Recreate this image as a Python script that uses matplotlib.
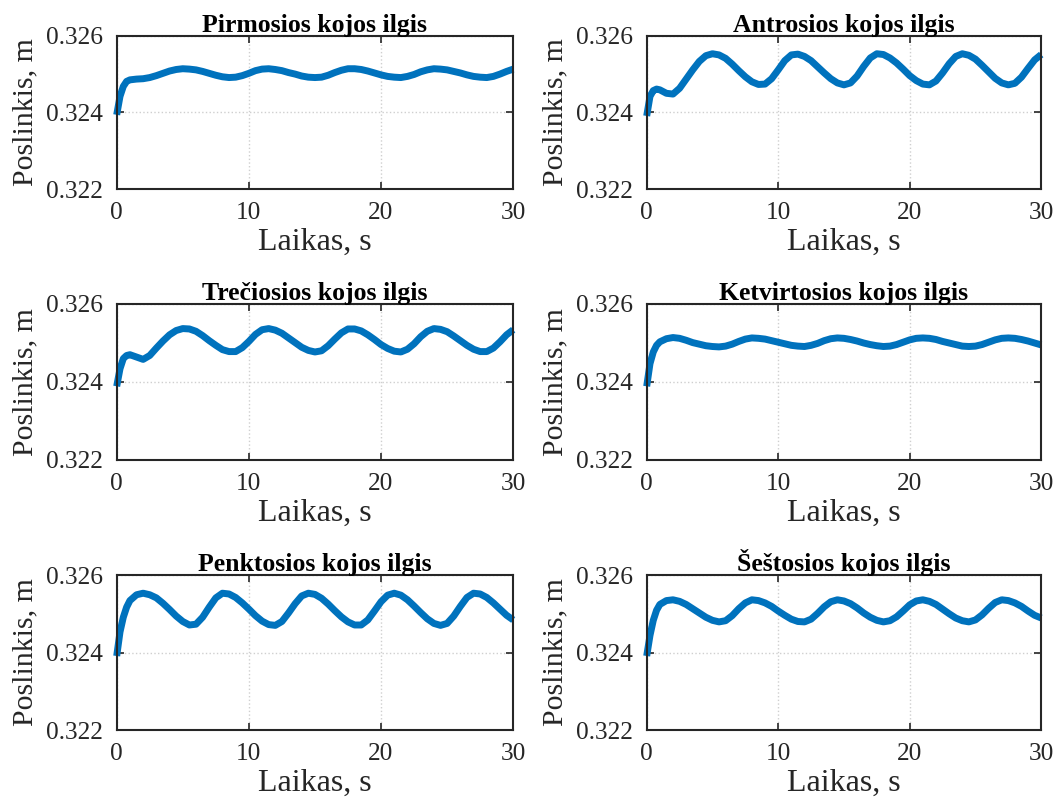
#!/usr/bin/env python3
"""Six-panel plot of leg length (Poslinkis) vs time, MATLAB-like look."""

import matplotlib
matplotlib.use("Agg")
import matplotlib.pyplot as plt  # noqa: E402

# ---------------------------------------------------------------------------
# Data
# ---------------------------------------------------------------------------

TIME = [0, 0.25, 0.5, 0.75, 1.0,
        1.5, 2.0, 2.5, 3.0, 3.5, 4.0, 4.5, 5.0,
        5.5, 6.0, 6.5, 7.0, 7.5, 8.0, 8.5,
        9.0, 9.5, 10.0, 10.5, 11.0,
        11.5, 12.0, 12.5, 13.0, 13.5, 14.0, 14.5, 15.0,
        15.5, 16.0, 16.5, 17.0, 17.5,
        18.0, 18.5, 19.0, 19.5, 20.0, 20.5, 21.0,
        21.5, 22.0, 22.5, 23.0, 23.5, 24.0,
        24.5, 25.0, 25.5, 26.0, 26.5, 27.0, 27.5,
        28.0, 28.5, 29.0, 29.5, 30.0]

LEG_1 = [0.32394, 0.32442, 0.32468, 0.32481, 0.32485,
         0.32487, 0.32488, 0.32491, 0.32496, 0.32502, 0.32508, 0.32512, 0.32514,
         0.32513, 0.32511, 0.32507, 0.32502, 0.32497, 0.32493, 0.32491,
         0.32492, 0.32496, 0.32502, 0.32509, 0.32513,
         0.32514, 0.32512, 0.32509, 0.32504, 0.32500, 0.32495, 0.32492, 0.32491,
         0.32492, 0.32497, 0.32504, 0.32510, 0.32514,
         0.32514, 0.32512, 0.32508, 0.32503, 0.32498, 0.32494, 0.32492,
         0.32491, 0.32494, 0.32499, 0.32506, 0.32511, 0.32514,
         0.32513, 0.32511, 0.32507, 0.32503, 0.32498, 0.32494, 0.32492,
         0.32491, 0.32494, 0.32500, 0.32507, 0.32513]

LEG_2 = [0.32391, 0.32442, 0.32457, 0.32461, 0.32459,
         0.32450, 0.32448, 0.32463, 0.32487, 0.32511, 0.32533, 0.32548, 0.32553,
         0.32550, 0.32541, 0.32526, 0.32509, 0.32493, 0.32480, 0.32473,
         0.32474, 0.32488, 0.32511, 0.32535, 0.32550,
         0.32552, 0.32546, 0.32535, 0.32519, 0.32503, 0.32488, 0.32477, 0.32472,
         0.32477, 0.32495, 0.32520, 0.32542, 0.32553,
         0.32551, 0.32542, 0.32529, 0.32513, 0.32496, 0.32483, 0.32474,
         0.32472, 0.32482, 0.32503, 0.32527, 0.32546, 0.32553,
         0.32549, 0.32539, 0.32523, 0.32506, 0.32489, 0.32477, 0.32472,
         0.32476, 0.32492, 0.32515, 0.32537, 0.32551]

LEG_3 = [0.32389, 0.32434, 0.32460, 0.32468, 0.32470,
         0.32464, 0.32458, 0.32468, 0.32487, 0.32505, 0.32521, 0.32532, 0.32537,
         0.32536, 0.32530, 0.32519, 0.32506, 0.32494, 0.32483, 0.32478,
         0.32478, 0.32488, 0.32504, 0.32522, 0.32534,
         0.32537, 0.32533, 0.32525, 0.32513, 0.32501, 0.32489, 0.32481, 0.32477,
         0.32480, 0.32493, 0.32510, 0.32526, 0.32536,
         0.32536, 0.32531, 0.32521, 0.32509, 0.32496, 0.32486, 0.32479,
         0.32477, 0.32484, 0.32498, 0.32516, 0.32530, 0.32537,
         0.32535, 0.32529, 0.32518, 0.32506, 0.32494, 0.32484, 0.32478,
         0.32478, 0.32487, 0.32503, 0.32521, 0.32534]

LEG_4 = [0.32389, 0.32447, 0.32477, 0.32494, 0.32503,
         0.32511, 0.32514, 0.32512, 0.32507, 0.32501, 0.32497, 0.32493, 0.32491,
         0.32490, 0.32492, 0.32497, 0.32504, 0.32510, 0.32513,
         0.32512, 0.32510, 0.32506, 0.32502, 0.32498, 0.32494, 0.32492,
         0.32491, 0.32494, 0.32499, 0.32506, 0.32511, 0.32513,
         0.32512, 0.32509, 0.32505, 0.32500, 0.32496, 0.32493, 0.32491,
         0.32492, 0.32496, 0.32502, 0.32508, 0.32512,
         0.32513, 0.32512, 0.32509, 0.32504, 0.32500, 0.32496, 0.32492, 0.32491,
         0.32492, 0.32496, 0.32502, 0.32508, 0.32512,
         0.32513, 0.32512, 0.32509, 0.32505, 0.32500, 0.32495]

LEG_5 = [0.32391, 0.32453, 0.32491, 0.32517, 0.32534,
         0.32549, 0.32553, 0.32549, 0.32541, 0.32527, 0.32511, 0.32494, 0.32480,
         0.32471, 0.32473, 0.32491, 0.32517, 0.32541, 0.32553,
         0.32551, 0.32542, 0.32528, 0.32512, 0.32495, 0.32481, 0.32472,
         0.32470, 0.32480, 0.32502, 0.32526, 0.32546, 0.32553,
         0.32550, 0.32540, 0.32525, 0.32508, 0.32492, 0.32479, 0.32471,
         0.32471, 0.32484, 0.32507, 0.32531, 0.32548,
         0.32553, 0.32548, 0.32536, 0.32520, 0.32503, 0.32487, 0.32475, 0.32470,
         0.32475, 0.32494, 0.32519, 0.32542, 0.32553,
         0.32551, 0.32542, 0.32528, 0.32512, 0.32496, 0.32484]

LEG_6 = [0.32391, 0.32444, 0.32483, 0.32509, 0.32524,
         0.32534, 0.32536, 0.32532, 0.32524, 0.32513, 0.32502, 0.32491, 0.32483,
         0.32479, 0.32482, 0.32495, 0.32513, 0.32528, 0.32536,
         0.32534, 0.32528, 0.32519, 0.32507, 0.32496, 0.32486, 0.32480,
         0.32479, 0.32486, 0.32501, 0.32518, 0.32531, 0.32536,
         0.32533, 0.32526, 0.32515, 0.32502, 0.32491, 0.32483, 0.32479,
         0.32482, 0.32492, 0.32507, 0.32523, 0.32533,
         0.32536, 0.32532, 0.32524, 0.32512, 0.32500, 0.32489, 0.32482, 0.32479,
         0.32484, 0.32497, 0.32514, 0.32529, 0.32536,
         0.32534, 0.32528, 0.32519, 0.32507, 0.32496, 0.32489]

TITLES = [
    "Pirmosios kojos ilgis",
    "Antrosios kojos ilgis",
    "Trečiosios kojos ilgis",
    "Ketvirtosios kojos ilgis",
    "Penktosios kojos ilgis",
    "Šeštosios kojos ilgis",
]
SERIES = [LEG_1, LEG_2, LEG_3, LEG_4, LEG_5, LEG_6]

X_TICKS = [0, 10, 20, 30]
Y_TICKS = [0.322, 0.324, 0.326]
Y_TICK_LABELS = ["0.322", "0.324", "0.326"]

# ---------------------------------------------------------------------------
# Layout (axes rectangles in figure fractions, 1060x810 px)
# ---------------------------------------------------------------------------

W, H = 1060, 810
COLS = [(116.7, 396.5), (646.7, 394.5)]
ROWS = [(35.7, 189.3), (304.0, 460.0), (575.0, 730.0)]

LINE_COLOR = "#0072BD"
AXIS_COLOR = "#262626"

plt.rcParams["font.family"] = ["Liberation Serif", "DejaVu Serif"]


def style_axes(ax, title):
    ax.set_xlim(0, 30)
    ax.set_ylim(0.322, 0.326)
    ax.set_xticks(X_TICKS)
    ax.set_yticks(Y_TICKS)
    ax.set_yticklabels(Y_TICK_LABELS)
    ax.tick_params(direction="in", top=True, right=True, length=5, width=1.2,
                   colors=AXIS_COLOR, labelsize=18.3, labelcolor=AXIS_COLOR)
    ax.tick_params(axis="x", pad=9)
    ax.tick_params(axis="y", pad=10)
    for sp in ax.spines.values():
        sp.set_color(AXIS_COLOR)
        sp.set_linewidth(1.5)
    ax.grid(True, color="#cfcfcf", linestyle=":", linewidth=1.0)
    ax.set_axisbelow(True)
    ax.set_title(title, fontsize=18.5, fontweight="bold", color="black", pad=3)
    ax.set_xlabel("Laikas, s", fontsize=23, color=AXIS_COLOR, labelpad=3)
    ax.set_ylabel("Poslinkis, m", fontsize=21.5, color=AXIS_COLOR, labelpad=5)


def main():
    fig = plt.figure(figsize=(W / 100, H / 100), dpi=100)
    for i, (title, values) in enumerate(zip(TITLES, SERIES)):
        row, col = divmod(i, 2)
        x0, w = COLS[col]
        top, bottom = ROWS[row]
        ax = fig.add_axes([x0 / W, 1 - bottom / H, w / W, (bottom - top) / H])
        ax.plot(TIME, values, color=LINE_COLOR, linewidth=5.0,
                solid_joinstyle="round", solid_capstyle="butt", clip_on=False)
        style_axes(ax, title)

    fig.savefig("out.png", dpi=100)
    plt.close(fig)


if __name__ == "__main__":
    main()
